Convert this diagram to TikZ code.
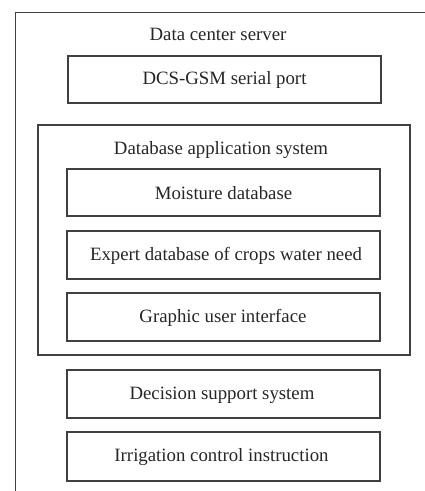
\documentclass[tikz,border=0pt]{standalone}
\usepackage{fontspec}
\setmainfont{Liberation Serif}
\begin{document}
\begin{tikzpicture}[x=1pt,y=-1pt,
  line/.style={draw=black!75,line width=1.4pt},
  lbl/.style={font=\fontsize{18.8}{22}\selectfont, text=black!85, inner sep=0pt}]
\useasboundingbox (0,0) rectangle (425,491);
% outer frame (right and bottom lie outside the picture)
\coordinate (otl) at (15.5,12.5);
\coordinate (otr) at (426,12.5);
\coordinate (obl) at (15.5,492);
\draw[line] (otr) -- (otl) -- (obl);
\node[lbl] (dcs) at (218,34) {Data center server};
% DCS-GSM
\draw[line] (68,56) rectangle (381,103);
\node[lbl] (gsm) at (224.5,80) {DCS-GSM serial port};
% database application system
\draw[line] (38,125) rectangle (410,355);
\node[lbl] (das) at (221,150) {Database application system};
\draw[line] (67,169) rectangle (380,216);
\node[lbl] (moist) at (223.5,193) {Moisture database};
\draw[line] (67,231) rectangle (380,279);
\node[lbl] (expert) at (226,256) {Expert database of crops water need};
\draw[line] (67,293) rectangle (380,341);
\node[lbl] (gui) at (223,318) {Graphic user interface};
% lower boxes
\draw[line] (67,370) rectangle (380,418);
\node[lbl] (dss) at (222,395) {Decision support system};
\draw[line] (67,432) rectangle (380,481);
\node[lbl] (ici) at (221.5,457) {Irrigation control instruction};
\end{tikzpicture}
\end{document}
